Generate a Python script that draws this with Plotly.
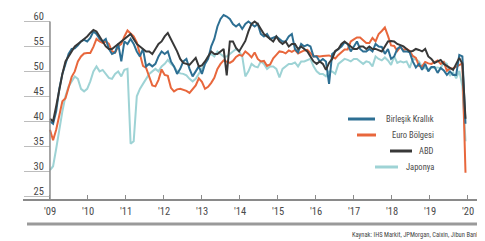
import plotly.graph_objects as go
import pandas as pd
import numpy as np

months = pd.date_range("2009-01-01", "2020-03-01", freq="MS").strftime("%Y-%m").tolist()

uk = [40.0, 39.5, 42.0, 46.5, 49.5, 51.5, 53.5, 54.5, 54.6, 55.2, 56.0, 56.3,
      56.0, 56.7, 58.0, 57.5, 56.5, 56.0, 56.5, 54.5, 53.5, 53.8, 55.5, 52.0,
      56.0, 55.5, 56.5, 55.5, 54.0, 53.0, 54.5, 51.0, 51.5, 51.0, 51.5, 53.0,
      54.0, 53.5, 54.0, 52.0, 51.0, 49.5, 50.5, 52.0, 52.5, 50.5, 49.0, 50.0,
      51.0, 49.5, 51.5, 52.5, 55.0, 56.5, 59.0, 60.5, 61.3, 61.0, 60.5, 59.5,
      59.0, 59.5, 58.5, 59.5, 60.0, 59.5, 59.0, 59.5, 57.5, 57.0, 57.5, 56.5,
      56.8, 57.0, 56.5, 56.0, 56.0, 57.0, 57.5, 54.5, 53.8, 55.5, 55.0, 55.3,
      55.0, 53.0, 53.0, 52.0, 52.5, 52.0, 47.5, 53.5, 54.0, 54.5, 55.0, 55.8,
      55.5, 54.0, 55.0, 56.0, 54.5, 54.0, 54.0, 54.5, 54.0, 55.5, 55.0, 54.9,
      53.5, 54.5, 52.5, 53.0, 54.5, 55.0, 54.0, 54.0, 53.8, 52.0, 50.8, 51.5,
      50.3, 51.5, 50.0, 50.9, 50.9, 49.7, 50.7, 50.2, 49.3, 50.0, 49.3, 49.3,
      53.3, 53.0, 39.5]

euro = [38.3, 36.2, 38.3, 41.1, 44.0, 44.6, 47.0, 48.9, 50.0, 52.0, 53.0, 53.6,
        53.7, 53.7, 54.9, 56.5, 56.0, 55.7, 56.0, 55.5, 54.0, 53.8, 55.0, 55.5,
        57.0, 58.2, 57.6, 57.0, 55.8, 53.3, 51.1, 50.7, 49.1, 47.2, 47.0, 48.3,
        50.4, 49.3, 49.1, 46.7, 46.0, 46.4, 46.5, 46.3, 46.1, 45.7, 46.5, 47.2,
        48.6, 47.9, 46.5, 46.9, 47.7, 48.7, 50.5, 51.5, 52.2, 51.9, 51.7, 52.1,
        52.9, 53.3, 53.1, 54.0, 53.5, 52.8, 53.8, 52.5, 52.0, 52.1, 51.1, 51.4,
        52.6, 53.3, 54.0, 53.9, 53.6, 54.2, 53.9, 54.3, 53.6, 53.9, 54.2, 54.3,
        53.6, 53.0, 53.1, 53.0, 53.1, 53.1, 53.2, 52.9, 52.6, 53.3, 53.9, 54.4,
        54.4, 56.0, 56.4, 56.8, 56.8, 56.3, 55.7, 55.7, 56.7, 56.0, 57.5, 58.1,
        58.8, 57.1, 55.2, 55.1, 54.1, 54.9, 54.3, 54.5, 54.1, 53.1, 52.7, 51.1,
        51.0, 51.9, 51.6, 51.5, 51.8, 52.2, 51.5, 51.9, 50.1, 50.6, 50.6, 50.9,
        51.3, 51.6, 29.7]

abd = [40.5, 40.0, 43.0, 46.5, 49.5, 52.0, 53.0, 54.0, 55.0, 55.5, 56.0, 56.5,
       57.0, 57.7, 58.3, 58.0, 57.0, 56.0, 55.0, 54.5, 54.5, 55.0, 55.5, 56.0,
       56.5, 57.0, 57.5, 56.5, 55.5, 55.0, 54.5, 54.0, 54.0, 53.5, 54.5, 55.5,
       56.0, 57.0, 57.7, 56.5, 55.3, 54.0, 52.5, 51.7, 51.5, 51.3, 52.0, 52.7,
       51.0, 51.2, 52.0, 53.0, 54.0, 53.5, 53.5, 54.0, 54.5, 49.2, 56.0, 56.0,
       54.7, 54.0, 55.0, 56.1, 58.0, 59.5, 60.0, 59.5, 58.5, 57.5, 57.0, 56.5,
       56.0, 57.0, 56.0, 55.5, 56.0, 55.0, 55.5, 55.5, 54.5, 55.0, 54.5, 54.0,
       53.0, 52.0, 51.5, 52.0, 51.5, 50.3, 51.7, 52.5, 54.1, 54.5, 55.5, 56.0,
       55.5, 55.0, 54.5, 54.5, 55.0, 55.0, 54.5, 55.0, 54.5, 54.5, 54.2, 54.0,
       55.0, 56.0, 56.1, 56.0, 55.5, 55.3, 55.0, 54.5, 54.0, 54.1, 54.5, 54.3,
       54.0, 54.5, 53.0, 52.5, 51.7, 52.0, 52.3, 51.5, 51.1, 50.8, 50.3, 51.5,
       52.7, 51.5, 40.5]

japonya = [30.2, 31.0, 34.5, 38.5, 42.0, 45.0, 47.0, 48.0, 49.0, 48.5, 46.5, 46.0,
           46.5, 48.0, 50.0, 51.0, 50.0, 50.3, 49.5, 48.7, 48.5, 49.5, 50.0, 49.0,
           50.3, 50.5, 35.5, 36.0, 45.0, 46.5, 47.5, 48.5, 49.5, 50.0, 50.5, 50.0,
           51.0, 51.5, 52.3, 51.5, 51.0, 50.0, 49.6, 49.5, 49.2, 48.5, 48.0, 48.5,
           49.5, 50.5, 51.8, 53.0, 53.5, 53.0, 54.0, 53.5, 53.0, 53.0, 53.5, 54.0,
           54.5, 54.0, 53.0, 49.0, 50.0, 51.5, 51.0, 50.8, 52.0, 51.5, 50.5, 51.0,
           51.0, 50.5, 48.8, 50.5, 51.0, 51.5, 51.5, 51.8, 51.0, 52.0, 52.0, 52.2,
           52.5, 51.0, 50.0, 49.5, 49.5, 49.0, 50.0, 50.0, 49.5, 51.5, 52.0, 52.5,
           52.3, 52.0, 52.5, 52.5, 52.0, 51.5, 52.0, 51.8, 51.0, 53.0, 52.5, 52.2,
           52.8, 52.2, 51.3, 53.0, 51.7, 52.0, 51.8, 52.0, 50.7, 52.5, 52.4, 52.0,
           50.9, 50.7, 50.4, 50.8, 50.7, 50.8, 50.6, 51.9, 51.5, 49.1, 49.8, 48.6,
           50.1, 47.0, 36.0]

series_names = ["Birleşik Krallık", "Euro Bölgesi", "ABD", "Japonya"]
colors = {"Birleşik Krallık": "#2d6f93", "Euro Bölgesi": "#e8673c",
          "ABD": "#383838", "Japonya": "#9ed3d5"}
year_labels = ["'09", "'10", "'11", "'12", "'13", "'14", "'15", "'16", "'17", "'18", "'19", "'20"]
y_ticks = [25, 30, 35, 40, 45, 50, 55, 60]
source_text = "Kaynak: IHS Markit, JPMorgan, Caixin, Jibun Bank"

data = {"Birleşik Krallık": uk, "Euro Bölgesi": euro, "ABD": abd, "Japonya": japonya}
x = np.arange(len(months))

FONT = "Liberation Sans Narrow, Roboto Condensed, Liberation Sans, sans-serif"
W, H = 485, 241
ML, MR, MT, MB = 15, 12, 3, 50
PW = W - ML - MR
PH = H - MT - MB

fig = go.Figure()
for name in ["Japonya", "Euro Bölgesi", "Birleşik Krallık", "ABD"]:
    fig.add_trace(go.Scatter(x=x, y=data[name], mode="lines", name=name,
                             customdata=months,
                             hovertemplate="%{customdata}: %{y}<extra>" + name + "</extra>",
                             line=dict(color=colors[name], width=2),
                             showlegend=False))

xmin, xmax = -8.7, 139.0
ymin, ymax = 24.43, 62.1
tickpos = list(np.linspace(0, 134.8, len(year_labels)))

fig.update_layout(
    width=W, height=H,
    margin=dict(l=ML, r=MR, t=MT, b=MB, autoexpand=False),
    paper_bgcolor="white", plot_bgcolor="white",
    font=dict(family=FONT, size=10, color="#4a4a4a"),
    xaxis=dict(range=[xmin, xmax], showgrid=False, zeroline=False, automargin=False,
               showline=True, linecolor="#8a8a8a", linewidth=1.5,
               tickmode="array", tickvals=tickpos, ticktext=year_labels,
               ticks="inside", ticklen=4, tickcolor="#8a8a8a", tickwidth=1,
               ticklabelstandoff=2,
               tickfont=dict(size=10.5, color="#4a4a4a")),
    yaxis=dict(range=[ymin, ymax], showgrid=False, zeroline=False, showline=False,
               automargin=False,
               anchor="free", position=(0 - xmin) / (xmax - xmin),
               tickmode="array", tickvals=y_ticks,
               ticks="outside", ticklen=26, tickcolor="#bdbdbd", tickwidth=1,
               ticklabelstandoff=-22, ticklabelshift=-5,
               tickfont=dict(size=10.5, color="#4a4a4a")),
)

# y axis line from bottom to 60
fig.add_shape(type="line", xref="x", yref="y", x0=0, x1=0, y0=ymin, y1=60,
              line=dict(color="#8a8a8a", width=1.5))

def px2paper_x(px):
    return (px - ML) / PW

def px2paper_y(py):
    return (H - MB - py) / PH

# thick bottom separator
fig.add_shape(type="line", xref="paper", yref="paper",
              x0=px2paper_x(19), x1=px2paper_x(475), y0=px2paper_y(216), y1=px2paper_y(216),
              line=dict(color="#9a9a9a", width=3))

fig.add_annotation(text=source_text, xref="paper", yref="paper",
                   x=px2paper_x(473), y=px2paper_y(227), xanchor="right", yanchor="middle",
                   showarrow=False, font=dict(size=6.5, color="#444444", family=FONT))

# legend (right-aligned text with swatches)
leg_y = [111, 127, 143, 159]
sw = {"Birleşik Krallık": (340, 367), "Euro Bölgesi": (349, 368), "ABD": (382, 404), "Japonya": (367, 390)}
for name, py in zip(series_names, leg_y):
    fig.add_annotation(text=name, xref="paper", yref="paper",
                       x=px2paper_x(428), y=px2paper_y(py), xanchor="right", yanchor="middle",
                       showarrow=False, font=dict(size=8.5, color="#4a4a4a", family=FONT))
    a, b = sw[name]
    fig.add_shape(type="line", xref="paper", yref="paper",
                  x0=px2paper_x(a), x1=px2paper_x(b), y0=px2paper_y(py), y1=px2paper_y(py),
                  line=dict(color=colors[name], width=3))

fig.write_html("out.html")
